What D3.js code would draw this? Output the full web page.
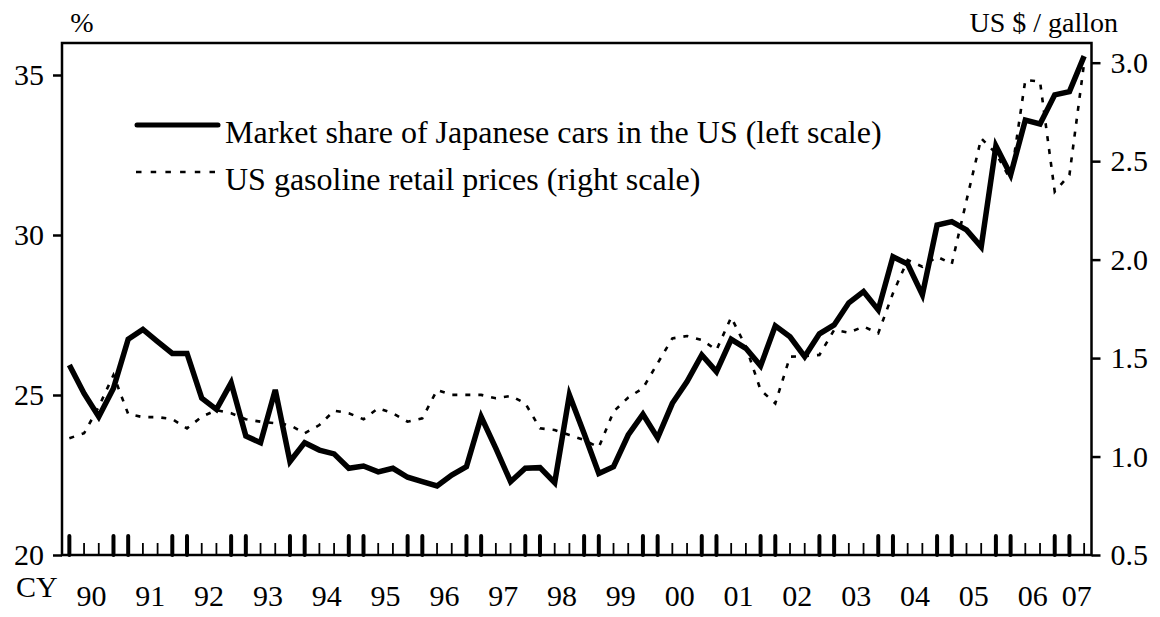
<!DOCTYPE html>
<html>
<head>
<meta charset="utf-8">
<script src="https://cdn.jsdelivr.net/npm/d3@7"></script>
<style>
  html, body { margin: 0; padding: 0; background: #fff; }
  svg { display: block; }
  text { font-family: "Liberation Serif", "Times New Roman", serif; fill: #000; }
</style>
</head>
<body>
<svg id="chart" width="1160" height="617"></svg>
<script>
// Quarterly series, 1990 Q1 to 2007 Q2
const yearLabels = ["90","91","92","93","94","95","96","97","98","99","00","01","02","03","04","05","06","07"];

// Market share of Japanese cars in the US, %
const marketShare = [
  25.94, 25.05, 24.32, 25.21, 26.74, 27.05, 26.67, 26.30, 26.30, 24.90,
  24.55, 25.38, 23.72, 23.51, 25.16, 22.92, 23.51, 23.28, 23.16, 22.71,
  22.78, 22.60, 22.71, 22.43, 22.29, 22.16, 22.50, 22.76, 24.32, 23.33,
  22.29, 22.71, 22.73, 22.26, 25.00, 23.80, 22.55, 22.76, 23.75, 24.40,
  23.66, 24.74, 25.42, 26.25, 25.73, 26.74, 26.46, 25.91, 27.16, 26.82,
  26.20, 26.91, 27.19, 27.88, 28.23, 27.66, 29.32, 29.09, 28.13, 30.31,
  30.42, 30.16, 29.63, 32.78, 31.88, 33.59, 33.47, 34.38, 34.48, 35.59
];

// US gasoline retail price, US$ per gallon
const gasPrice = [
  1.093, 1.118, 1.253, 1.414, 1.216, 1.200, 1.200, 1.190, 1.143, 1.202,
  1.236, 1.220, 1.189, 1.177, 1.169, 1.160, 1.118, 1.160, 1.233, 1.220,
  1.189, 1.245, 1.220, 1.177, 1.194, 1.338, 1.313, 1.313, 1.313, 1.296,
  1.308, 1.270, 1.143, 1.135, 1.109, 1.084, 1.047, 1.228, 1.300, 1.347,
  1.474, 1.600, 1.612, 1.592, 1.541, 1.707, 1.558, 1.338, 1.270, 1.507,
  1.510, 1.516, 1.643, 1.629, 1.660, 1.626, 1.829, 1.998, 1.964, 2.015,
  1.978, 2.300, 2.616, 2.540, 2.405, 2.912, 2.904, 2.345, 2.430, 3.000
];

const leftTicks = [20, 25, 30, 35];
const rightTicks = [0.5, 1.0, 1.5, 2.0, 2.5, 3.0];
const legendLabels = [
  "Market share of Japanese cars in the US (left scale)",
  "US gasoline retail prices (right scale)"
];

const svg = d3.select("#chart");
const plot = { left: 62, right: 1091.5, top: 43, bottom: 555 };
const n = marketShare.length;

const x = d3.scaleLinear().domain([-0.5, n - 0.5]).range([plot.left, plot.right]);
const yL = d3.scaleLinear().domain([20, 36]).range([plot.bottom, plot.top]);
const yR = d3.scaleLinear().domain([0.5, 3.1]).range([plot.bottom, plot.top]);

// Left axis
const axL = svg.append("g")
  .attr("transform", `translate(${plot.left},0)`)
  .call(d3.axisLeft(yL).tickValues(leftTicks).tickSize(9).tickPadding(9).tickFormat(d3.format("d")));
axL.select(".domain").remove();
axL.selectAll(".tick line").attr("stroke", "#000").attr("stroke-width", 2.5);
axL.selectAll(".tick text").style("font-size", "30px").attr("font-family", null);

// Right axis
const axR = svg.append("g")
  .attr("transform", `translate(${plot.right},0)`)
  .call(d3.axisRight(yR).tickValues(rightTicks).tickSize(9).tickPadding(10).tickFormat(d3.format(".1f")));
axR.select(".domain").remove();
axR.selectAll(".tick line").attr("stroke", "#000").attr("stroke-width", 2.5);
axR.selectAll(".tick text").style("font-size", "30px").attr("font-family", null);

// Quarter ticks along the bottom: heavy marks at Q4 and Q1, light marks at Q2 and Q3
const quarters = d3.range(n);
svg.append("g").selectAll("line")
  .data(quarters)
  .join("line")
  .attr("x1", d => x(d)).attr("x2", d => x(d))
  .attr("y1", plot.bottom)
  .attr("y2", d => (d % 4 === 0 || d % 4 === 3) ? plot.bottom - 19 : plot.bottom - 12)
  .attr("stroke", "#000")
  .attr("stroke-width", d => (d % 4 === 0 || d % 4 === 3) ? 4 : 1.8)
  .attr("stroke-linecap", d => (d % 4 === 0 || d % 4 === 3) ? "round" : "butt");

// Year labels centred on each year's quarters
svg.append("g").selectAll("text")
  .data(yearLabels)
  .join("text")
  .attr("x", (d, i) => {
    const first = i * 4, last = Math.min(i * 4 + 3, n - 1);
    return x((first + last) / 2);
  })
  .attr("y", 606)
  .attr("text-anchor", "middle")
  .style("font-size", "30px")
  .text(d => d);

svg.append("text").attr("x", 16).attr("y", 597).style("font-size", "30px").text("CY");

// Plot frame
svg.append("rect")
  .attr("x", plot.left).attr("y", plot.top)
  .attr("width", plot.right - plot.left).attr("height", plot.bottom - plot.top)
  .attr("fill", "none").attr("stroke", "#000").attr("stroke-width", 2.5);

// Unit labels
svg.append("text").attr("x", 82).attr("y", 32).attr("text-anchor", "middle").style("font-size", "28px").text("%");
svg.append("text").attr("x", 1118).attr("y", 32).attr("text-anchor", "end").style("font-size", "28px").text("US $ / gallon");

// Series
const lineL = d3.line().x((d, i) => x(i)).y(d => yL(d));
const lineR = d3.line().x((d, i) => x(i)).y(d => yR(d));

svg.append("path")
  .datum(gasPrice)
  .attr("d", lineR)
  .attr("fill", "none").attr("stroke", "#000")
  .attr("stroke-width", 2.6)
  .attr("stroke-dasharray", "5,8");

svg.append("path")
  .datum(marketShare)
  .attr("d", lineL)
  .attr("fill", "none").attr("stroke", "#000")
  .attr("stroke-width", 5.5)
  .attr("stroke-linejoin", "miter");

// Legend
const legend = svg.append("g");
legend.append("line").attr("x1", 137).attr("x2", 218).attr("y1", 125).attr("y2", 125)
  .attr("stroke", "#000").attr("stroke-width", 5).attr("stroke-linecap", "round");
legend.append("line").attr("x1", 136).attr("x2", 219).attr("y1", 172).attr("y2", 172)
  .attr("stroke", "#000").attr("stroke-width", 2.6).attr("stroke-dasharray", "5.5,9.2");
legend.append("text").attr("x", 225).attr("y", 143).style("font-size", "32px").text(legendLabels[0]);
legend.append("text").attr("x", 225).attr("y", 190).style("font-size", "32px").text(legendLabels[1]);
</script>
</body>
</html>
